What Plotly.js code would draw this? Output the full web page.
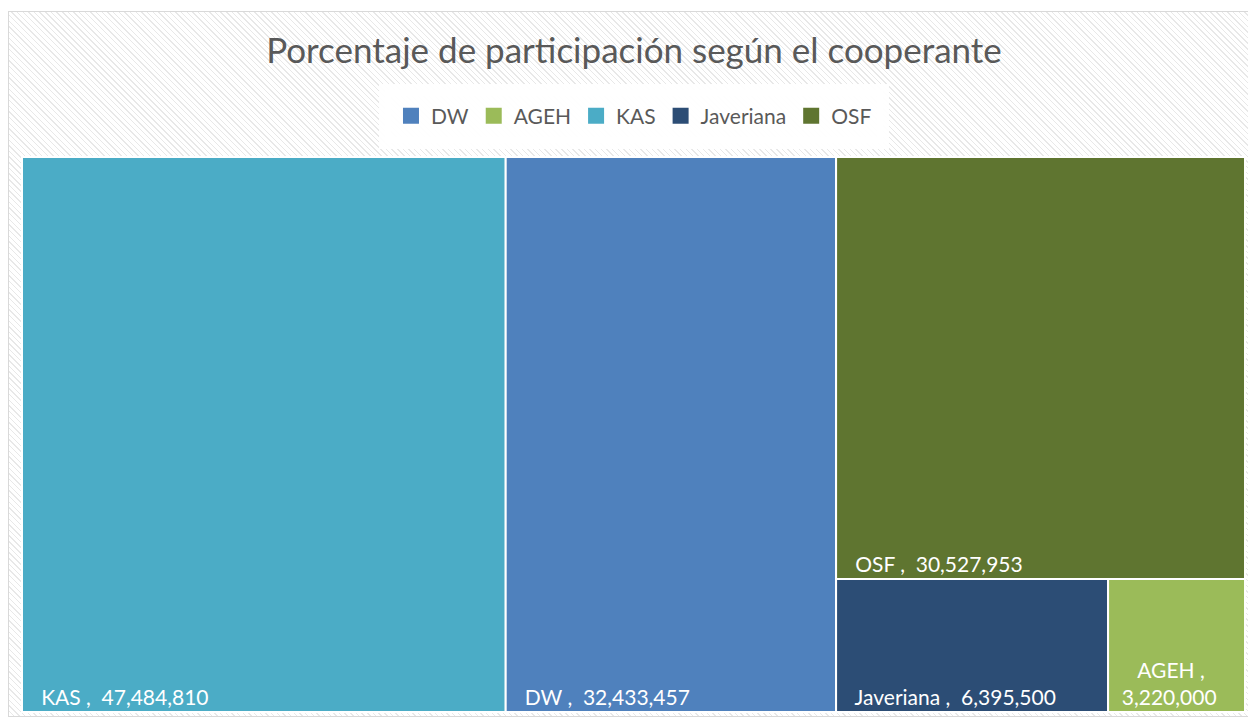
<!DOCTYPE html>
<html>
<head>
<meta charset="utf-8">
<script src="https://cdn.plot.ly/plotly-3.0.1.min.js"></script>
<style>
  html, body { margin: 0; padding: 0; background: #ffffff; }
  #frame {
    position: absolute; left: 8px; top: 11px; width: 1240px; height: 706px;
    border: 1px solid #d9d9d9; border-right: none; box-sizing: border-box;
    background: repeating-linear-gradient(45deg, #ffffff 0px, #ffffff 3px, #e8e8e8 3px, #e8e8e8 4px);
  }
  #chart { position: absolute; left: 0; top: 0; width: 1248px; height: 721px; }
</style>
</head>
<body>
<div id="frame"></div>
<div id="chart"></div>
<script>
// Data
const labels = ["KAS", "DW", "OSF", "Javeriana", "AGEH"];
const values = [47484810, 32433457, 30527953, 6395500, 3220000];
const colors = {KAS: "#4BACC6", DW: "#4F81BD", OSF: "#5F7530", Javeriana: "#2C4D75", AGEH: "#9BBB59"};
const legendOrder = ["DW", "AGEH", "KAS", "Javeriana", "OSF"];
const chartTitle = "Porcentaje de participación según el cooperante";

const FONT = "Lato, 'Open Sans', sans-serif";
const NB = "\u00a0";

// small tile (AGEH) wraps its label onto two centred lines, as in the original
const templates = values.map((v, i) =>
  i === values.length - 1
    ? NB.repeat(5) + "%{label} ,<br>" + NB.repeat(2) + "%{value:,}"
    : NB.repeat(3) + "%{label} ,  %{value:,}"
);

const traces = [{
  type: "treemap",
  labels: labels,
  parents: labels.map(() => ""),
  values: values,
  texttemplate: templates,
  textposition: "bottom left",
  textfont: {family: FONT, size: 21, color: "#ffffff"},
  marker: {
    colors: labels.map(l => colors[l]),
    line: {color: "#ffffff", width: 2},
    pad: {t: 0, l: 0, r: 0, b: 0}
  },
  tiling: {packing: "squarify", squarifyratio: 1, pad: 0},
  pathbar: {visible: false},
  root: {color: "rgba(0,0,0,0)"},
  sort: true,
  hoverinfo: "label+value",
  showlegend: false,
  domain: {x: [0, 1], y: [0, 1]}
}];

legendOrder.forEach(name => {
  traces.push({
    type: "scatter",
    mode: "markers",
    name: name,
    x: [null],
    y: [null],
    marker: {color: colors[name], symbol: "square", size: 16, line: {width: 0}},
    showlegend: true,
    hoverinfo: "skip"
  });
});

const layout = {
  width: 1248,
  height: 721,
  paper_bgcolor: "rgba(0,0,0,0)",
  plot_bgcolor: "rgba(0,0,0,0)",
  margin: {l: 22, r: 3, t: 157, b: 9},
  font: {family: FONT, color: "#595959"},
  title: {
    text: chartTitle,
    font: {family: FONT, size: 35, color: "#595959"},
    x: 0.508, xanchor: "center",
    y: 0.93, yanchor: "middle"
  },
  xaxis: {visible: false},
  yaxis: {visible: false},
  showlegend: true,
  legend: {
    orientation: "h",
    x: 0.508, xanchor: "center", xref: "container",
    y: 0.839, yanchor: "middle", yref: "container",
    bgcolor: "rgba(255,255,255,0.92)",
    bordercolor: "rgba(255,255,255,0.92)",
    borderwidth: 12,
    font: {family: FONT, size: 21, color: "#595959"},
    traceorder: "normal"
  }
};

Plotly.newPlot("chart", traces, layout, {displayModeBar: false, staticPlot: true});
</script>
</body>
</html>
